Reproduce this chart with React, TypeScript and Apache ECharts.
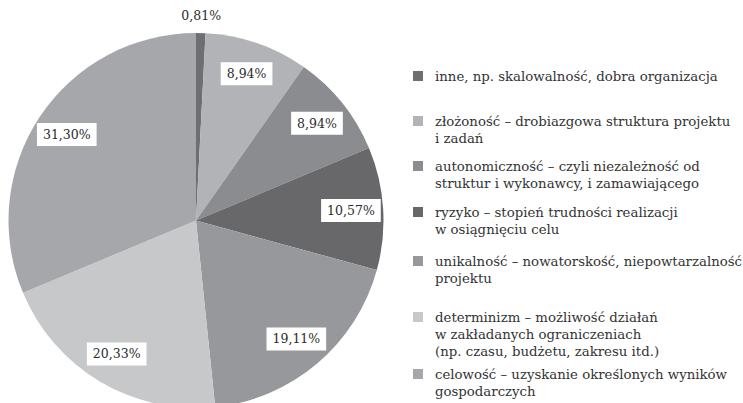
import React, { useEffect, useRef } from 'react';
import * as echarts from 'echarts';

const categories = [
  'inne, np. skalowalność, dobra organizacja',
  'złożoność – drobiazgowa struktura projektu\ni zadań',
  'autonomiczność – czyli niezależność od\nstruktur i wykonawcy, i zamawiającego',
  'ryzyko – stopień trudności realizacji\nw osiągnięciu celu',
  'unikalność – nowatorskość, niepowtarzalność\nprojektu',
  'determinizm – możliwość działań\nw zakładanych ograniczeniach\n(np. czasu, budżetu, zakresu itd.)',
  'celowość – uzyskanie określonych wyników\ngospodarczych',
];
const values = [0.81, 8.94, 8.94, 10.57, 19.11, 20.33, 31.3];
const colors = ['#6e6f72', '#b2b3b6', '#8b8c8f', '#68686b', '#97989b', '#c7c8ca', '#a6a7aa'];
const legendLineY = [76, 121, 166, 212, 261, 317, 374];

const fmt = (v: number) => v.toFixed(2).replace('.', ',') + '%';

export default function App() {
  const ref = useRef<HTMLDivElement>(null);
  useEffect(() => {
    const chart = echarts.init(ref.current!, null, { renderer: 'svg' });
    const L = 17;
    const font = 'DejaVu Serif';
    const legends = categories.map((name, i) => {
      const n = name.split('\n').length;
      return {
        show: true,
        orient: 'vertical',
        left: 413,
        top: legendLineY[i] - ((2 * n - 1) * L) / 2,
        padding: 0,
        itemWidth: 10,
        itemHeight: 10,
        icon: 'rect',
        selectedMode: false,
        data: [name],
        formatter: (nm: string) => '\n'.repeat(n - 1) + nm,
        textStyle: {
          fontFamily: font,
          fontSize: 13.3,
          color: '#333333',
          lineHeight: L,
          padding: [0, 0, 0, 7],
        },
      };
    });
    const baseData = categories.map((name, i) => ({
      name,
      value: values[i],
      itemStyle: { color: colors[i] },
    }));
    const center = [196, 220.5];
    chart.setOption({
      animation: false,
      backgroundColor: '#ffffff',
      textStyle: { fontFamily: font },
      legend: legends,
      series: [
        {
          type: 'pie',
          center,
          radius: [0, 187.5],
          startAngle: 90,
          clockwise: true,
          silent: true,
          label: { show: false },
          labelLine: { show: false },
          itemStyle: { borderWidth: 0 },
          emphasis: { disabled: true },
          data: baseData,
        },
        {
          type: 'pie',
          center,
          radius: [117, 187.5],
          startAngle: 90,
          clockwise: true,
          silent: true,
          emphasis: { disabled: true },
          itemStyle: { color: 'rgba(0,0,0,0)', borderWidth: 0 },
          labelLine: { show: false },
          label: {
            show: true,
            position: 'inside',
            formatter: (p: any) => fmt(p.value),
            fontFamily: font,
            fontSize: 12.5,
            lineHeight: 15,
            color: '#2b2b2b',
            backgroundColor: '#ffffff',
            padding: [4, 6],
          },
          data: categories.map((name, i) => ({
            name,
            value: values[i],
            label: { show: i > 0 },
          })),
        },
        {
          type: 'pie',
          center,
          radius: [190, 214],
          startAngle: 90,
          clockwise: true,
          silent: true,
          emphasis: { disabled: true },
          itemStyle: { color: 'rgba(0,0,0,0)', borderWidth: 0 },
          labelLine: { show: false },
          label: {
            show: true,
            position: 'inside',
            formatter: (p: any) => fmt(p.value),
            fontFamily: font,
            fontSize: 12.5,
            color: '#2b2b2b',
          },
          data: categories.map((name, i) => ({
            name,
            value: values[i],
            label: { show: i === 0 },
          })),
        },
      ],
    });
    return () => chart.dispose();
  }, []);
  return (
    <div
      ref={ref}
      style={{ position: 'fixed', left: 0, top: 0, width: 743, height: 403 }}
    />
  );
}
